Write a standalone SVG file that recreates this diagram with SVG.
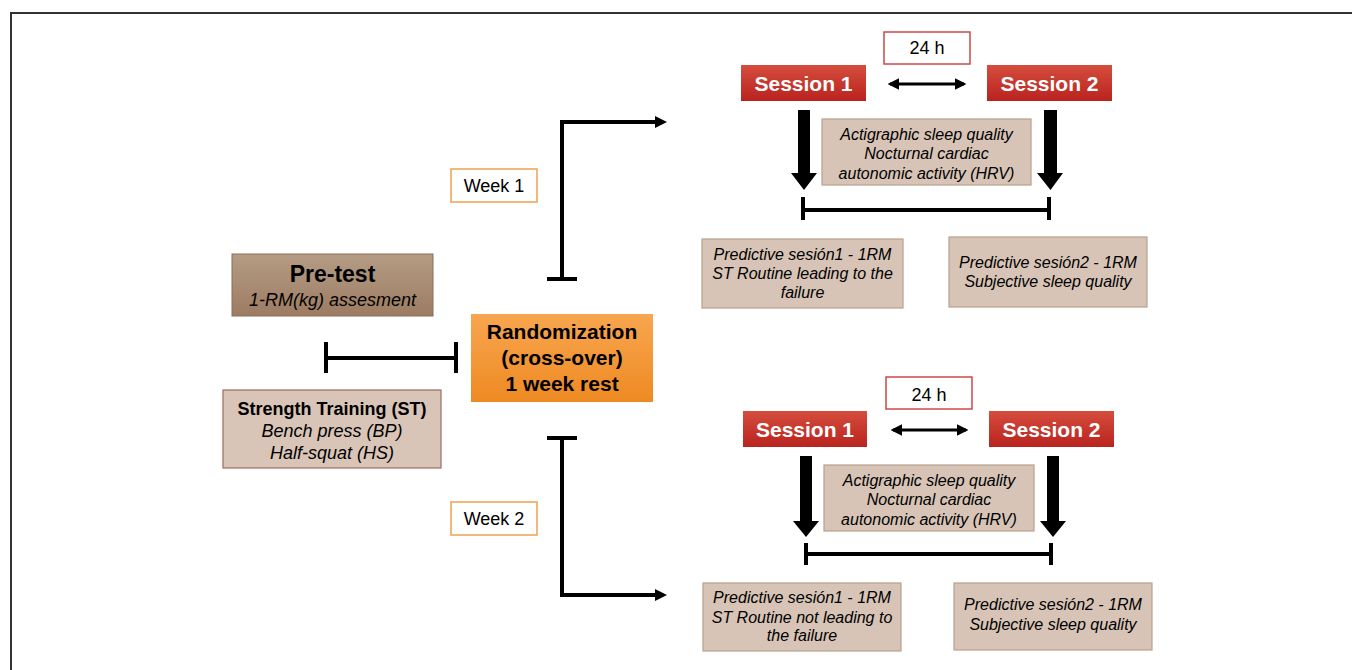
<svg xmlns="http://www.w3.org/2000/svg" width="1352" height="670" viewBox="0 0 1352 670">
<defs>
<linearGradient id="gPre" x1="0" y1="0" x2="0" y2="1"><stop offset="0" stop-color="#b59c85"/><stop offset="1" stop-color="#9c7c62"/></linearGradient>
<linearGradient id="gOr" x1="0" y1="0" x2="0" y2="1"><stop offset="0" stop-color="#f8a650"/><stop offset="1" stop-color="#ee8a22"/></linearGradient>
<linearGradient id="gSe" x1="0" y1="0" x2="0" y2="1"><stop offset="0" stop-color="#d54d3d"/><stop offset="1" stop-color="#b9231f"/></linearGradient>
<marker id="ah" viewBox="0 0 10 10" refX="8" refY="5" markerWidth="3.6" markerHeight="3.6" orient="auto-start-reverse" markerUnits="strokeWidth"><path d="M0,0 L10,5 L0,10 z" fill="#000"/></marker>
</defs>
<style>
text{font-family:"Liberation Sans",Arial,sans-serif;text-anchor:middle;fill:#000}
.b{font-weight:bold}
.i{font-style:italic}
.w{fill:#fff}
.tan{fill:#d7c4b6;stroke:#b8a08e;stroke-width:1.2}
.ln{stroke:#000;stroke-width:4;fill:none}
.ln3{stroke:#000;stroke-width:3.2;fill:none}
</style>
<rect x="11" y="13" width="1400" height="700" fill="none" stroke="#333" stroke-width="2"/>

<g id="pretest">
<rect x="232" y="254" width="201" height="62" fill="url(#gPre)" stroke="#8c6c58" stroke-width="1"/>
<text x="332.5" y="282" class="b" font-size="23">Pre-test</text>
<text x="332.5" y="306" class="i" font-size="18">1-RM(kg) assesment</text>
</g>

<g id="strength">
<rect x="223" y="390" width="218" height="78" fill="#d9c5b7" stroke="#9b6b60" stroke-width="1.2"/>
<text x="332" y="415" class="b" font-size="18">Strength Training (ST)</text>
<text x="332" y="437" class="i" font-size="18">Bench press (BP)</text>
<text x="332" y="459" class="i" font-size="18">Half-squat (HS)</text>
</g>

<g id="randomization">
<rect x="471" y="314" width="182" height="88" fill="url(#gOr)"/>
<text x="562" y="339" class="b" font-size="21">Randomization</text>
<text x="562" y="365" class="b" font-size="21">(cross-over)</text>
<text x="562" y="391" class="b" font-size="21">1 week rest</text>
</g>

<g id="week1">
<rect x="451" y="169" width="86" height="33" fill="#fff" stroke="#f0a050" stroke-width="1.5"/>
<text x="494" y="192" font-size="18">Week 1</text>
</g>
<g id="week2">
<rect x="451" y="502" width="86" height="33" fill="#fff" stroke="#f0a050" stroke-width="1.5"/>
<text x="494" y="525" font-size="18">Week 2</text>
</g>

<g id="h24-top">
<rect x="884" y="32" width="86" height="32" fill="#fff" stroke="#d04848" stroke-width="1.5"/>
<text x="927" y="54" font-size="18">24 h</text>
</g>
<g id="session1-top">
<rect x="741" y="65" width="125" height="36" fill="url(#gSe)"/>
<text x="803.5" y="91" class="b w" font-size="21">Session 1</text>
</g>
<g id="session2-top">
<rect x="987" y="65" width="125" height="36" fill="url(#gSe)"/>
<text x="1049.5" y="91" class="b w" font-size="21">Session 2</text>
</g>
<g id="measure-top">
<rect x="822" y="119" width="209" height="66" class="tan"/>
<text x="926.5" y="140" class="i" font-size="16">Actigraphic sleep quality</text>
<text x="926.5" y="159" class="i" font-size="16">Nocturnal cardiac</text>
<text x="926.5" y="178.5" class="i" font-size="16">autonomic activity (HRV)</text>
</g>
<g id="pred1-top">
<rect x="702" y="239" width="201" height="69" class="tan"/>
<text x="802.5" y="259.5" class="i" font-size="16">Predictive sesión1 - 1RM</text>
<text x="802.5" y="279" class="i" font-size="16">ST Routine leading to the</text>
<text x="802.5" y="298" class="i" font-size="16">failure</text>
</g>
<g id="pred2-top">
<rect x="949" y="237" width="198" height="70" class="tan"/>
<text x="1048" y="267.5" class="i" font-size="16">Predictive sesión2 - 1RM</text>
<text x="1048" y="286.5" class="i" font-size="16">Subjective sleep quality</text>
</g>

<g id="h24-bot">
<rect x="886" y="377" width="86" height="32" fill="#fff" stroke="#d04848" stroke-width="1.5"/>
<text x="929" y="401" font-size="18">24 h</text>
</g>
<g id="session1-bot">
<rect x="743" y="411" width="124" height="36" fill="url(#gSe)"/>
<text x="805" y="437" class="b w" font-size="21">Session 1</text>
</g>
<g id="session2-bot">
<rect x="989" y="411" width="125" height="36" fill="url(#gSe)"/>
<text x="1051.5" y="437" class="b w" font-size="21">Session 2</text>
</g>
<g id="measure-bot">
<rect x="824" y="465" width="210" height="66" class="tan"/>
<text x="929" y="486" class="i" font-size="16">Actigraphic sleep quality</text>
<text x="929" y="505" class="i" font-size="16">Nocturnal cardiac</text>
<text x="929" y="524.5" class="i" font-size="16">autonomic activity (HRV)</text>
</g>
<g id="pred1-bot">
<rect x="703" y="583" width="198" height="68" class="tan"/>
<text x="802" y="603" class="i" font-size="16">Predictive sesión1 - 1RM</text>
<text x="802" y="622.5" class="i" font-size="16">ST Routine not leading to</text>
<text x="802" y="641" class="i" font-size="16">the failure</text>
</g>
<g id="pred2-bot">
<rect x="954" y="583" width="198" height="67" class="tan"/>
<text x="1053" y="610" class="i" font-size="16">Predictive sesión2 - 1RM</text>
<text x="1053" y="629.5" class="i" font-size="16">Subjective sleep quality</text>
</g>

<g id="connectors">
<path class="ln" d="M326,358 H456 M326,342 V373 M456,342 V373"/>
<path class="ln" d="M547,279 H577 M562,279 V122 H656"/>
<path d="M655,116 L667,122 L655,128 z" fill="#000"/>
<path class="ln" d="M547,438 H577 M562,438 V595 H656"/>
<path d="M655,589 L667,595 L655,601 z" fill="#000"/>
<path class="ln3" d="M890,84 H964" marker-start="url(#ah)" marker-end="url(#ah)"/>
<path class="ln3" d="M893,430 H966" marker-start="url(#ah)" marker-end="url(#ah)"/>
<path d="M798,110 H810 V173 H817 L804,190 L791,173 H798 z" fill="#000"/>
<path d="M1044,110 H1057 V173 H1063 L1050.5,190 L1037,173 H1044 z" fill="#000"/>
<path d="M800,456 H812 V521 H819 L806,537 L793,521 H800 z" fill="#000"/>
<path d="M1047,456 H1059 V521 H1066 L1053,537 L1040,521 H1047 z" fill="#000"/>
<path class="ln" d="M803,210 H1049 M803,197 V220 M1049,197 V220"/>
<path class="ln" d="M806,554 H1051 M806,543 V565 M1051,543 V565"/>
</g>
</svg>
